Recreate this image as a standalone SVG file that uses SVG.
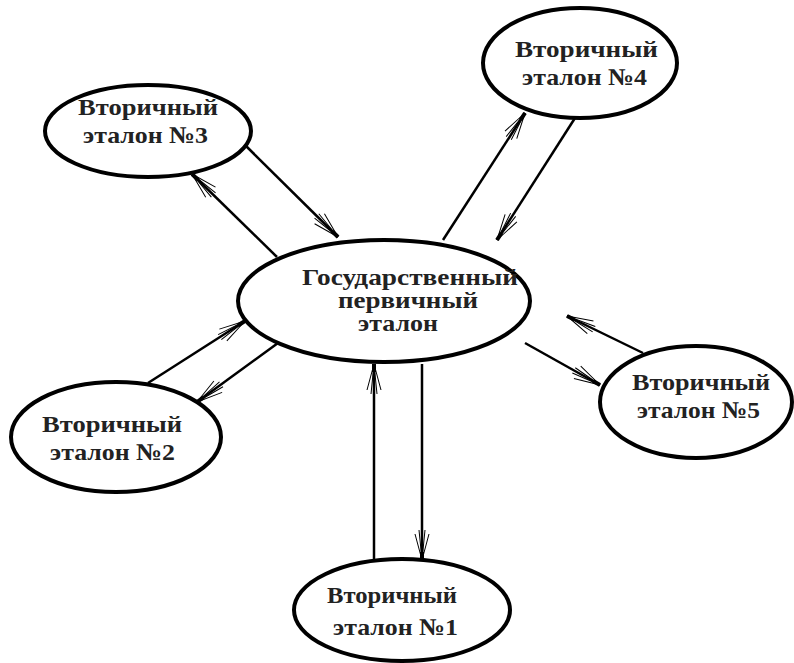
<svg xmlns="http://www.w3.org/2000/svg" width="794" height="663" viewBox="0 0 794 663">
<style>
.node ellipse{fill:#fff;stroke:#000;stroke-width:4}
.node text{font-family:"Liberation Serif","DejaVu Serif",serif;font-weight:bold;font-size:24px;fill:#222}
#center text{font-size:23px}
.conn line{stroke:#000;stroke-width:2.5;marker-end:url(#arr)}
</style>
<defs>
<marker id="arr" markerUnits="userSpaceOnUse" markerWidth="40" markerHeight="40" refX="0" refY="0" orient="auto" overflow="visible">
<path d="M0,0 L-26,-7 M0,0 L-30,-3 M0,0 L-26,7 M0,0 L-30,3" fill="none" stroke="#000" stroke-width="1"/>
<path d="M0,0 L-8,0" stroke="#000" stroke-width="4"/>
</marker>
</defs>
<g id="connectors" class="conn">
<line x1="277" y1="257" x2="192" y2="174"/>
<line x1="245" y1="145" x2="338" y2="237"/>
<line x1="443" y1="240" x2="525" y2="113"/>
<line x1="575" y1="118" x2="497" y2="240"/>
<line x1="148" y1="383" x2="245" y2="321"/>
<line x1="278" y1="343" x2="197" y2="402"/>
<line x1="643" y1="353" x2="567" y2="316"/>
<line x1="525" y1="343" x2="600" y2="385"/>
<line x1="374" y1="560" x2="374" y2="364"/>
<line x1="422" y1="364" x2="422" y2="560"/>
</g>
<g id="center" class="node">
<ellipse cx="384" cy="301" rx="146" ry="61"/>
<text x="302" y="285" textLength="216" lengthAdjust="spacingAndGlyphs">Государственный</text>
<text x="338" y="308" textLength="140" lengthAdjust="spacingAndGlyphs">первичный</text>
<text x="358" y="331" textLength="80" lengthAdjust="spacingAndGlyphs">эталон</text>
</g>
<g id="n3" class="node">
<ellipse cx="148" cy="131" rx="103" ry="46"/>
<text x="78" y="115" textLength="140" lengthAdjust="spacingAndGlyphs">Вторичный</text>
<text x="83" y="143" textLength="125" lengthAdjust="spacingAndGlyphs">эталон №3</text>
</g>
<g id="n4" class="node">
<ellipse cx="580" cy="63" rx="97" ry="55"/>
<text x="515" y="57" textLength="143" lengthAdjust="spacingAndGlyphs">Вторичный</text>
<text x="522" y="85" textLength="125" lengthAdjust="spacingAndGlyphs">эталон №4</text>
</g>
<g id="n2" class="node">
<ellipse cx="116" cy="437" rx="105" ry="55"/>
<text x="42" y="432" textLength="140" lengthAdjust="spacingAndGlyphs">Вторичный</text>
<text x="50" y="460" textLength="125" lengthAdjust="spacingAndGlyphs">эталон №2</text>
</g>
<g id="n5" class="node">
<ellipse cx="696" cy="402" rx="96" ry="56"/>
<text x="632" y="390" textLength="138" lengthAdjust="spacingAndGlyphs">Вторичный</text>
<text x="637" y="418" textLength="123" lengthAdjust="spacingAndGlyphs">эталон №5</text>
</g>
<g id="n1" class="node">
<ellipse cx="402" cy="610" rx="108" ry="51"/>
<text x="327" y="603" textLength="130" lengthAdjust="spacingAndGlyphs">Вторичный</text>
<text x="333" y="635" textLength="125" lengthAdjust="spacingAndGlyphs">эталон №1</text>
</g>
</svg>
